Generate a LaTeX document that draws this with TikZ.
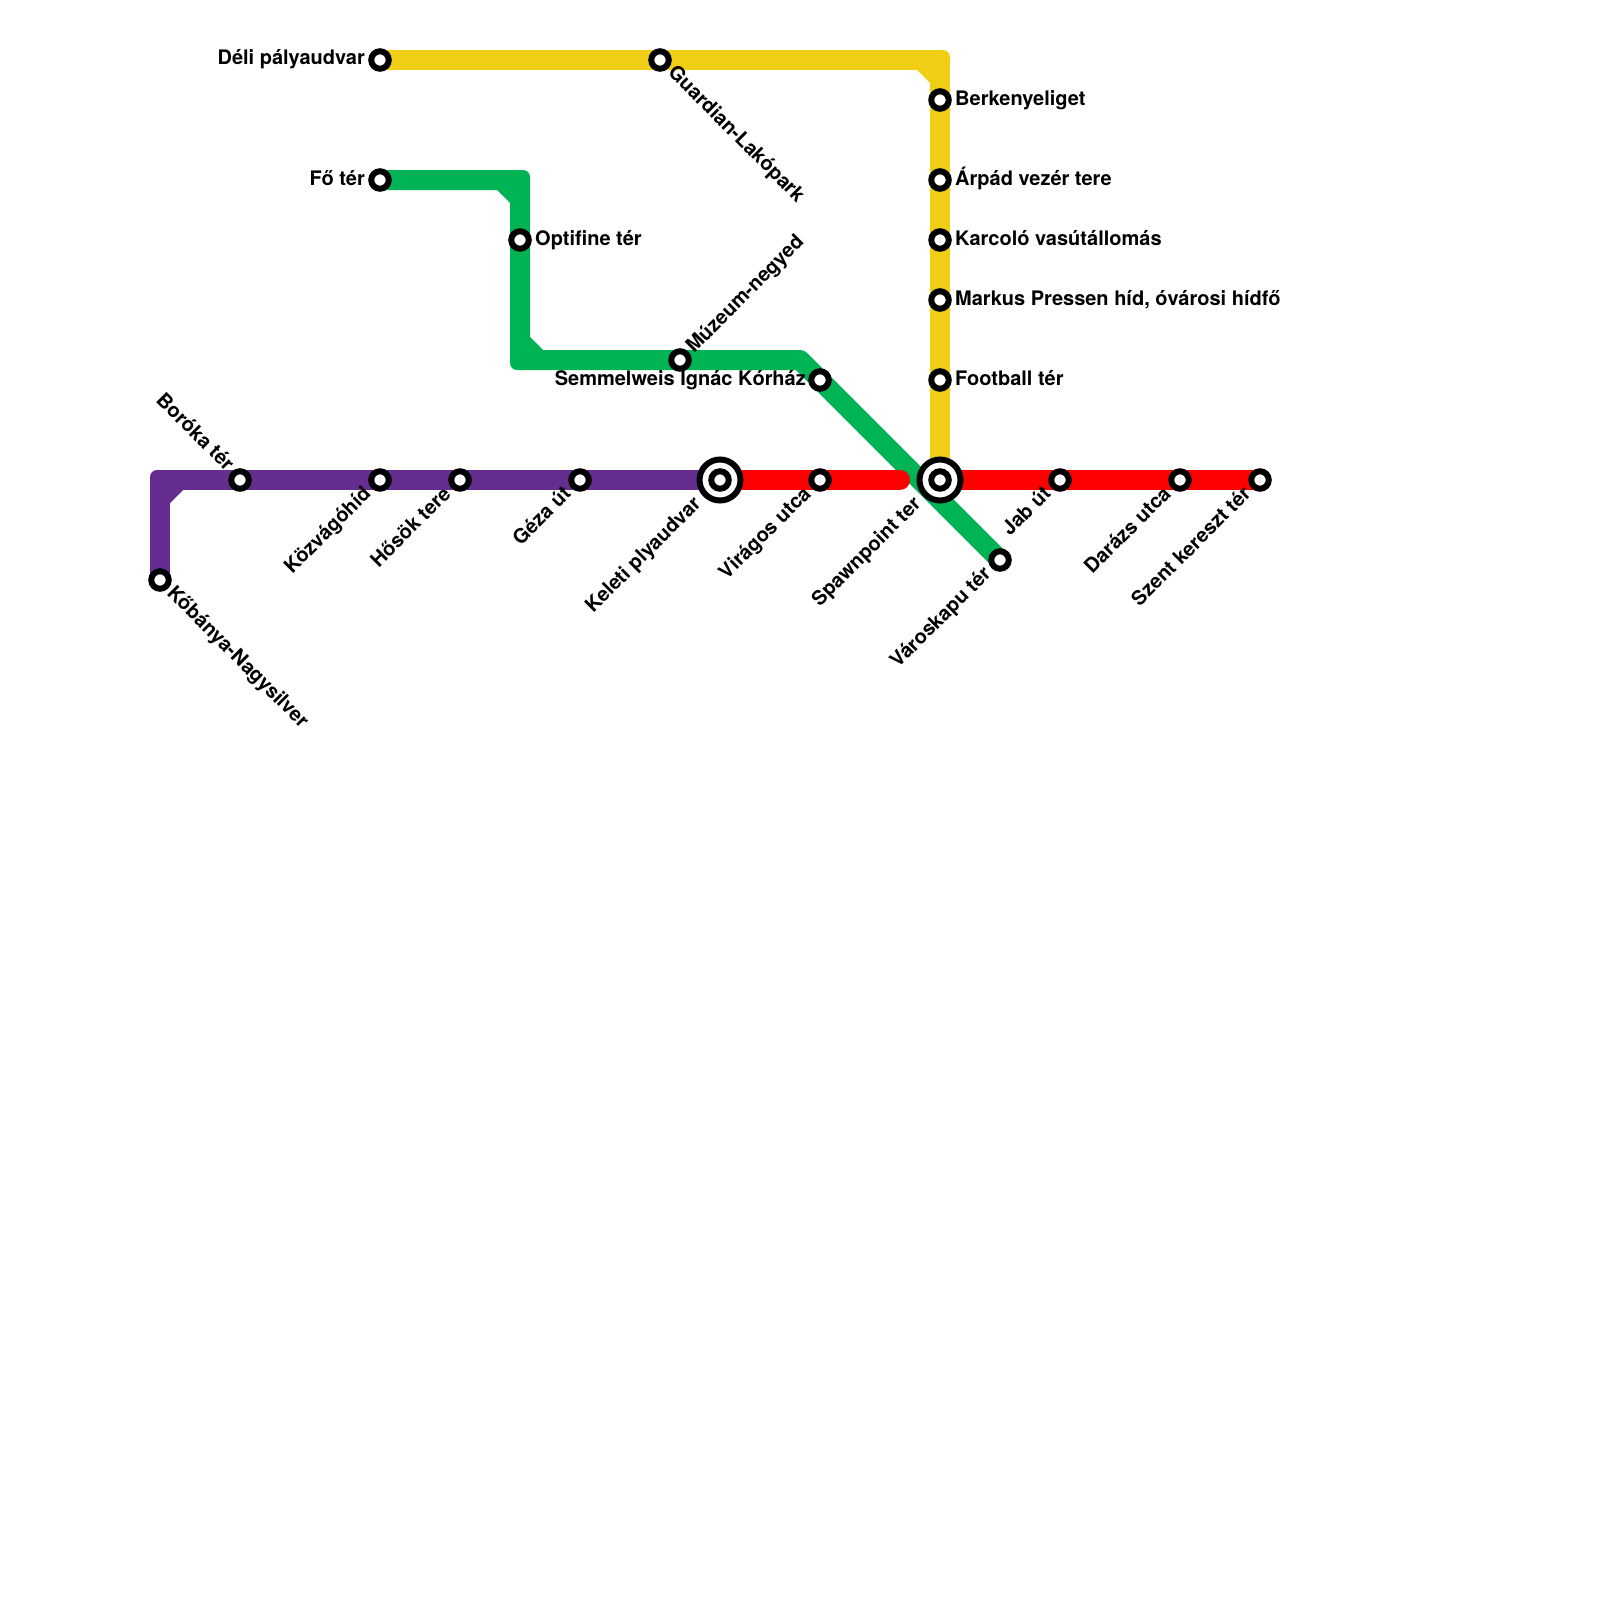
\documentclass[tikz,border=0pt]{standalone}
\usepackage{fontspec}
\setmainfont{TeX Gyre Heros}
\pgfdeclarelayer{background}
\pgfsetlayers{background,main}
\usetikzlibrary{calc}
\definecolor{LineYellow}{RGB}{240,206,21}
\definecolor{LineGreen}{RGB}{0,179,84}
\definecolor{LinePurple}{RGB}{102,45,145}
\newcommand{\Corner}[4]%
% point, color, x side, y side
{ \begin{pgfonlayer}{background}
    \fill[#2, rounded corners=7] ($(#1)+(#3*10,#4*10)$) rectangle ($(#1)-(#3*10,#4*10)$);
    \fill[#2] ($(#1)-(#3*10,#4*10)$) -- ($(#1)-(#3*23,#4*10)$) -- ($(#1)-(#3*10,#4*23)$) -- cycle;
  \end{pgfonlayer}
}
\begin{document}
\begin{tikzpicture}
[   x=1pt, y=-1pt,
    station/.style={circle, draw=black, fill=white, line width=6, minimum size=17.5, inner sep=0},
    hub/.style={circle, draw=black, fill=white, line width=6, minimum size=41, inner sep=0},
    metro/.style={line width=20, line cap=round, line join=round},
    stop/.style={inner sep=0, font=\fontsize{20}{22}\selectfont\bfseries},
    stopE/.style={stop, anchor=base west},
    stopW/.style={stop, anchor=base east},
    stopNE/.style={stop, anchor=base west, rotate=45},
    stopSE/.style={stop, anchor=base west, rotate=-45},
    stopSW/.style={stop, anchor=base east, rotate=45},
    stopNW/.style={stop, anchor=base east, rotate=-45}
]
    \useasboundingbox (0,0) rectangle (1600,1600);
    % yellow
    \node[station] (Deli) at (380,60) {};
    \node[station] (Guardian) at (660,60) {};
    \node[station] (Berkenye) at (940,100) {};
    \node[station] (Arpad) at (940,180) {};
    \node[station] (Karcolo) at (940,240) {};
    \node[station] (Markus) at (940,300) {};
    \node[station] (Football) at (940,380) {};
    % green
    \node[station] (FoTer) at (380,180) {};
    \node[station] (Optifine) at (520,240) {};
    \node[station] (Muzeum) at (680,360) {};
    \node[station] (Semmelweis) at (820,380) {};
    \node[station] (Varoskapu) at (1000,560) {};
    % red
    \node[hub] (KeletiHub) at (720,480) {};
    \node[station] (Keleti) at (720,480) {};
    \node[station] (Viragos) at (820,480) {};
    \node[hub] (SpawnHub) at (940,480) {};
    \node[station] (Spawn) at (940,480) {};
    \node[station] (Jab) at (1060,480) {};
    \node[station] (Darazs) at (1180,480) {};
    \node[station] (Szent) at (1260,480) {};
    % purple
    \node[station] (Boroka) at (240,480) {};
    \node[station] (Kozvago) at (380,480) {};
    \node[station] (Hosok) at (460,480) {};
    \node[station] (Geza) at (580,480) {};
    \node[station] (Kobanya) at (160,580) {};
    \coordinate (YellowBend) at (940,60);
    \coordinate (GreenBendA) at (520,180);
    \coordinate (GreenBendB) at (520,360);
    \coordinate (GreenBendC) at (800,360);
    \coordinate (PurpleBend) at (160,480);
    \coordinate (RedEnd) at (900,480);
    \begin{pgfonlayer}{background}
        \draw[metro, LineYellow] (Deli.center) -- (Guardian.center) -- (YellowBend) -- (Berkenye.center) -- (Arpad.center) -- (Karcolo.center) -- (Markus.center) -- (Football.center) -- (Spawn.center);
        \draw[metro, LineGreen] (FoTer.center) -- (GreenBendA) -- (Optifine.center) -- (GreenBendB) -- (Muzeum.center) -- (GreenBendC) -- (Semmelweis.center) -- (Varoskapu.center);
        \draw[metro, LinePurple] (Kobanya.center) -- (PurpleBend) -- (Boroka.center) -- (Kozvago.center) -- (Hosok.center) -- (Geza.center) -- (Keleti.center);
        \draw[metro, red] (Keleti.center) -- (Viragos.center) -- (RedEnd);
        \draw[metro, red] (Spawn.center) -- (Jab.center) -- (Darazs.center) -- (Szent.center);
    \end{pgfonlayer}
    \Corner{YellowBend}{LineYellow}{1}{-1}
    \Corner{GreenBendA}{LineGreen}{1}{-1}
    \Corner{GreenBendB}{LineGreen}{-1}{1}
    \Corner{PurpleBend}{LinePurple}{-1}{-1}
    % labels
    \node[stopW] (DeliName) at (365,65) {Déli pályaudvar};
    \node[stopSE] (GuardianName) at (667,73.5) {Guardian-Lakópark};
    \node[stopE] (BerkenyeName) at (955,106) {Berkenyeliget};
    \node[stopE] (ArpadName) at (955,185) {Árpád vezér tere};
    \node[stopE] (KarcoloName) at (955,245) {Karcoló vasútállomás};
    \node[stopE] (MarkusName) at (955,305) {Markus Pressen híd, óvárosi hídfő};
    \node[stopE] (FootballName) at (955,385) {Football tér};
    \node[stopW] (FoTerName) at (365,185) {Fő tér};
    \node[stopE] (OptifineName) at (535,245) {Optifine tér};
    \node[stopNE] (MuzeumName) at (694,354) {Múzeum-negyed};
    \node[stopW] (SemmelweisName) at (806,385) {Semmelweis Ignác Kórház};
    \node[stopSW] (VaroskapuName) at (992,575) {Városkapu tér};
    \node[stopSW] (KeletiName) at (702,505) {Keleti plyaudvar};
    \node[stopSW] (ViragosName) at (812,495) {Virágos utca};
    \node[stopSW] (SpawnName) at (922,505) {Spawnpoint ter};
    \node[stopSW] (JabName) at (1052,495) {Jab út};
    \node[stopSW] (DarazsName) at (1172,495) {Darázs utca};
    \node[stopSW] (SzentName) at (1252,495) {Szent kereszt tér};
    \node[stopNW] (BorokaName) at (226,472) {Boróka tér};
    \node[stopSW] (KozvagoName) at (372,495) {Közvágóhíd};
    \node[stopSW] (HosokName) at (452,495) {Hősök tere};
    \node[stopSW] (GezaName) at (572,495) {Géza út};
    \node[stopSE] (KobanyaName) at (166,594) {Kőbánya-Nagysilver};
\end{tikzpicture}
\end{document}
